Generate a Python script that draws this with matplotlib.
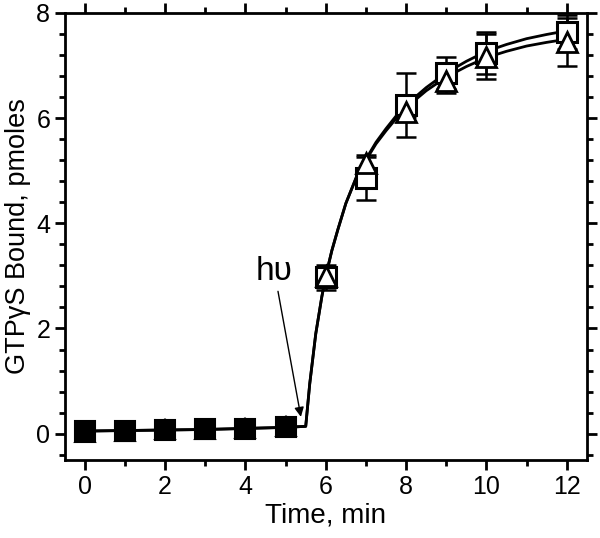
import matplotlib
matplotlib.use("Agg")
import matplotlib.pyplot as plt
from matplotlib.ticker import MultipleLocator

plt.rcParams['font.family'] = ['Liberation Sans', 'DejaVu Sans']

# measured points
timeEarly = [0, 1, 2, 3, 4, 5]
squareEarly = [0.05, 0.05, 0.07, 0.08, 0.09, 0.12]
triangleEarly = [0.04, 0.05, 0.08, 0.08, 0.10, 0.14]

timeLate = [6, 7, 8, 9, 10, 12]
squareLate = [2.97, 4.87, 6.25, 6.86, 7.24, 7.64]
squareErr = [0.23, 0.42, 0.60, 0.30, 0.40, 0.32]
triangleLate = [3.00, 5.15, 6.12, 6.70, 7.17, 7.45]
triangleErr = [0.12, 0.12, 0.10, 0.22, 0.42, 0.45]

# fitted curves
curveTime = [0, 1, 2, 3, 4, 5, 5.5, 5.6, 5.75, 5.9, 6.0, 6.15, 6.3, 6.5, 6.75, 7.0, 7.25, 7.5, 7.75,
             8.0, 8.5, 9.0, 9.5, 10.0, 10.5, 11.0, 11.5, 12.0]
squareCurve = [0.05, 0.06, 0.07, 0.08, 0.10, 0.12, 0.14, 0.95, 1.90, 2.60, 3.00, 3.48, 3.88, 4.38, 4.86, 5.22,
               5.54, 5.80, 6.04, 6.25, 6.58, 6.86, 7.08, 7.27, 7.40, 7.51, 7.59, 7.66]
triangleCurve = [0.05, 0.06, 0.07, 0.08, 0.10, 0.12, 0.14, 0.95, 1.90, 2.60, 3.00, 3.48, 3.88, 4.38, 4.85, 5.20,
                 5.51, 5.76, 5.99, 6.20, 6.52, 6.78, 6.98, 7.15, 7.27, 7.37, 7.44, 7.50]

fig = plt.figure(figsize=(6.0, 5.38), dpi=100)
ax = fig.add_axes([0.108, 0.145, 0.87, 0.831])

ax.plot(curveTime, squareCurve, color='black', lw=2.0, zorder=2)
ax.plot(curveTime, triangleCurve, color='black', lw=2.0, zorder=2)

errStyle = dict(fmt='none', ecolor='black', elinewidth=1.8, capsize=7, capthick=1.8, zorder=3)
ax.errorbar(timeEarly, squareEarly, yerr=0.05, **errStyle)
ax.errorbar(timeLate, squareLate, yerr=squareErr, **errStyle)
ax.errorbar(timeLate, triangleLate, yerr=triangleErr, **errStyle)

ax.plot(timeEarly, squareEarly, 's', ms=14, mfc='black', mec='black', mew=1.5, zorder=4)
ax.plot(timeEarly, triangleEarly, '^', ms=15, mfc='black', mec='black', mew=1.5, zorder=4)
ax.plot(timeLate, squareLate, 's', ms=14, mfc='white', mec='black', mew=2.2, zorder=4)
ax.plot(timeLate, triangleLate, '^', ms=15, mfc='white', mec='black', mew=2.0, zorder=5)

ax.annotate('h\u03c5', xy=(5.38, 0.32), xytext=(4.72, 3.08), fontsize=24,
            ha='center', va='center',
            arrowprops=dict(arrowstyle='-|>', color='black', lw=1.0, shrinkA=1, shrinkB=0,
                            mutation_scale=14))

ax.set_xlim(-0.5, 12.5)
ax.set_ylim(-0.5, 8)
ax.xaxis.set_major_locator(MultipleLocator(2))
ax.xaxis.set_minor_locator(MultipleLocator(1))
ax.yaxis.set_major_locator(MultipleLocator(2))
ax.yaxis.set_minor_locator(MultipleLocator(0.4))

for spine in ax.spines.values():
    spine.set_linewidth(2.0)
ax.tick_params(which='both', direction='out', top=True, right=True, width=2.0, labelsize=18)
ax.tick_params(which='major', length=7)
ax.tick_params(which='minor', length=4.5)

ax.set_xlabel('Time, min', fontsize=20, labelpad=3)
ax.set_ylabel('GTP\u03b3S Bound, pmoles', fontsize=19.5, labelpad=4)

fig.savefig('out.png', dpi=100)
